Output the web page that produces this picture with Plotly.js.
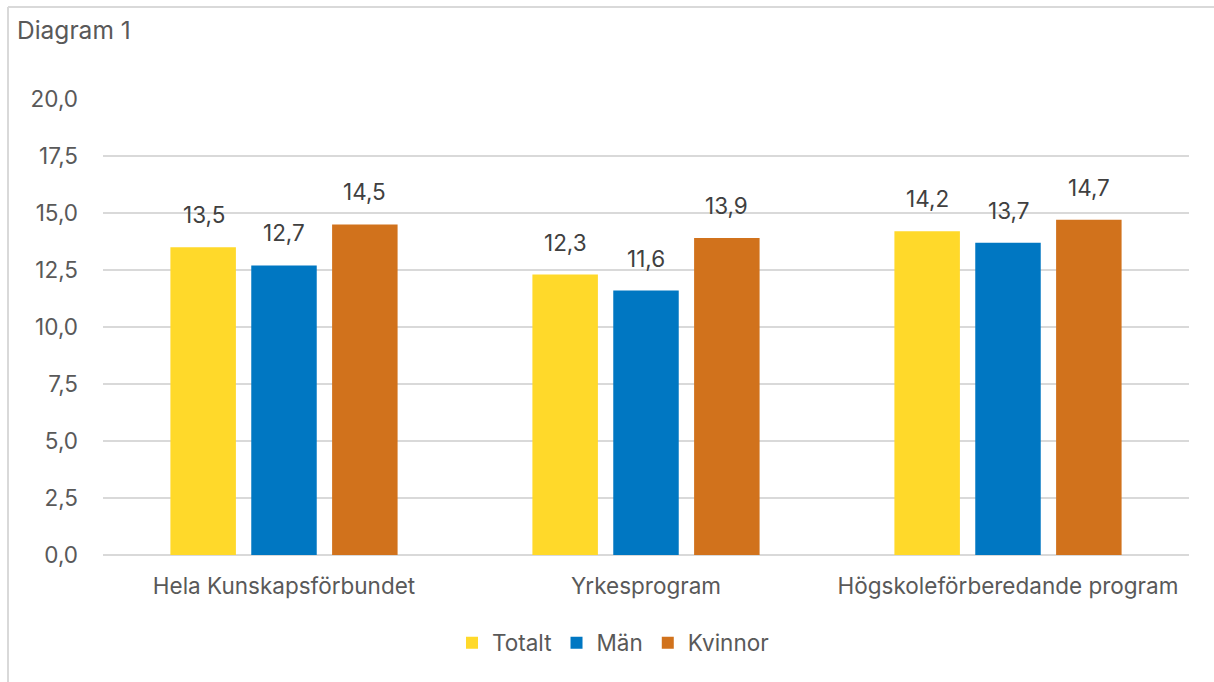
<!DOCTYPE html>
<html>
<head>
<meta charset="utf-8">
<script src="https://cdn.plot.ly/plotly-3.0.1.min.js"></script>
<style>
html,body{margin:0;padding:0;background:#fff;}
#chart{width:1214px;height:682px;}
</style>
</head>
<body>
<div id="chart"></div>
<script>
const categories = ["Hela Kunskapsförbundet", "Yrkesprogram", "Högskoleförberedande program"];
const seriesNames = ["Totalt", "Män", "Kvinnor"];
const totalt = [13.5, 12.3, 14.2];
const man = [12.7, 11.6, 13.7];
const kvinnor = [14.5, 13.9, 14.7];
const yTicks = [0, 2.5, 5, 7.5, 10, 12.5, 15, 17.5, 20];
const colors = ["#FFD92A", "#0077C2", "#D1721C"];

const series = [totalt, man, kvinnor];
const FONT = "Inter, 'Open Sans', sans-serif";
const FS = 22.5;

const traces = series.map((vals, i) => ({
  type: "bar",
  name: seriesNames[i],
  x: categories,
  y: vals,
  marker: {color: colors[i]},
  hoverinfo: "skip"
}));

const slot = 80.5;
const annotations = [];
series.forEach((vals, i) => {
  vals.forEach((v, j) => {
    annotations.push({
      x: categories[j], y: v, xref: "x", yref: "y",
      text: v.toFixed(1).replace(".", ","),
      showarrow: false, xanchor: "center", yanchor: "bottom",
      xshift: (i - 1) * slot, yshift: 17,
      font: {family: FONT, size: FS, color: "#404040"}
    });
  });
});

const layout = {
  width: 1214, height: 682,
  margin: {l: 103, r: 25, t: 99, b: 127},
  paper_bgcolor: "#fff", plot_bgcolor: "#fff",
  separators: ", ",
  barmode: "group",
  bargap: 0.33,
  bargroupgap: 0.19,
  font: {family: FONT, size: FS, color: "#595959"},
  title: {
    text: "Diagram 1",
    xref: "container", yref: "container",
    x: 17 / 1214, xanchor: "left",
    y: 1 - 30 / 682, yanchor: "middle",
    font: {family: FONT, size: 24.5, color: "#595959"}
  },
  xaxis: {
    type: "category",
    showgrid: false, zeroline: false,
    showline: false, ticks: "",
    ticklabelstandoff: 15,
    tickfont: {family: FONT, size: FS, color: "#595959"}
  },
  yaxis: {
    range: [0, 20], tickvals: yTicks, tickformat: ".1f",
    showgrid: true, gridcolor: "#d9d9d9", gridwidth: 1.5,
    zeroline: true, zerolinecolor: "#d9d9d9", zerolinewidth: 1.5,
    showline: false, ticks: "",
    ticklabelstandoff: 24,
    tickfont: {family: FONT, size: FS, color: "#595959"}
  },
  showlegend: true,
  legend: {
    orientation: "h", x: 0.5 - 33 / 1086, xanchor: "center",
    y: (555 - 643) / 456, yanchor: "middle",
    font: {family: FONT, size: FS, color: "#595959"},
    itemwidth: 30, traceorder: "normal"
  },
  annotations: annotations,
  shapes: [
    {type: "line", xref: "paper", yref: "paper",
     x0: (8 - 103) / 1086, x1: (1214 - 103) / 1086, y0: (555 - 7) / 456, y1: (555 - 7) / 456,
     line: {color: "#d9d9d9", width: 2}},
    {type: "line", xref: "paper", yref: "paper",
     x0: (8 - 103) / 1086, x1: (8 - 103) / 1086, y0: (555 - 7) / 456, y1: (555 - 690) / 456,
     line: {color: "#d9d9d9", width: 2}}
  ]
};

Plotly.newPlot("chart", traces, layout, {displayModeBar: false, staticPlot: true});
</script>
</body>
</html>
